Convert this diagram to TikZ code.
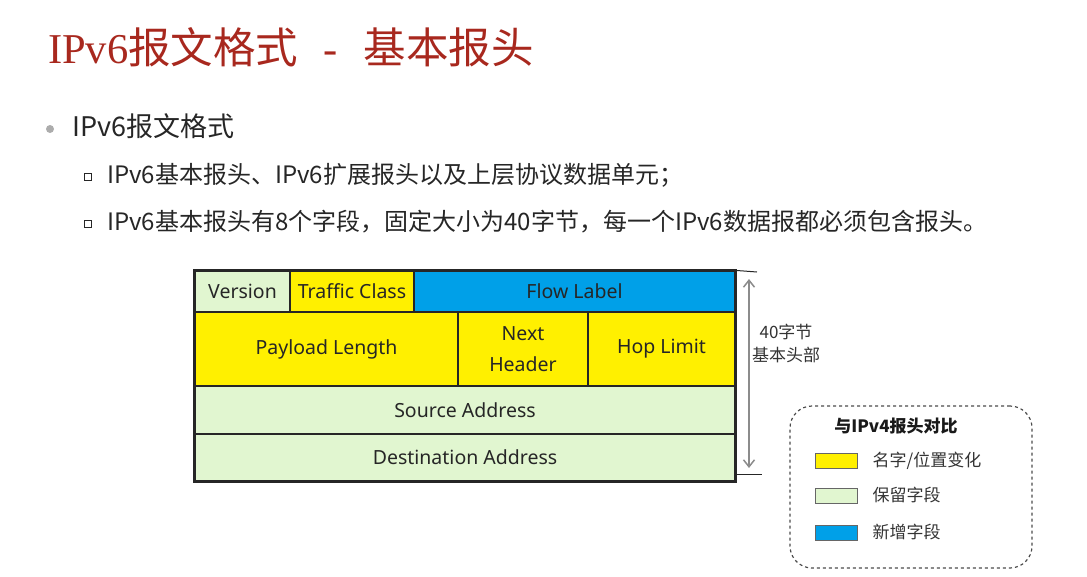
\documentclass[tikz,border=0pt]{standalone}
\usepackage{fontspec}
\setmainfont{Noto Sans}
\newfontfamily\cjk{Noto Sans CJK SC}
\newfontfamily\titleserif{Liberation Serif}
\usetikzlibrary{arrows.meta,positioning}
\definecolor{titlered}{HTML}{A8281E}
\definecolor{fyellow}{HTML}{FFF000}
\definecolor{fgreen}{HTML}{E1F6D0}
\definecolor{fblue}{HTML}{00A0E8}
\definecolor{bargray}{HTML}{8C8C8C}

\begin{document}
\begin{tikzpicture}[x=1pt, y=-1pt, >={Straight Barb[length=7pt,width=11pt]},
  fld/.style={draw=black!85, line width=1.2pt, inner sep=0, text=black!85,
              font=\fontsize{19.5}{23}\selectfont, align=center},
  body/.style={anchor=west, inner sep=0, text=black!85},
  swatch/.style={draw=black!60, line width=0.8pt, minimum width=42pt, minimum height=15pt, inner sep=0},
  legtxt/.style={inner sep=0, text=black!80, font=\cjk\fontsize{17}{20}\selectfont}]
  \useasboundingbox (0,0) rectangle (1087,576);
  \node[anchor=west, inner sep=0, text=titlered] (title) at (48,47)
    {\fontsize{42.5}{46}\selectfont\titleserif IPv6\cjk 报文格式\hspace{0.6em}\titleserif -\hspace{0.6em}\cjk 基本报头};
  \node[circle, fill=gray!65, inner sep=0, minimum size=8pt] (dot) at (50,129) {};
  \node[body, font=\cjk\fontsize{27}{30}\selectfont] (pkt) at (72,126) {IPv6报文格式};
  \node[draw=black!85, line width=1pt, inner sep=0, minimum size=7pt] (sqa) at (88,177) {};
  \node[body, font=\cjk\fontsize{24}{28}\selectfont] (parts) at (107,175)
    {IPv6基本报头、IPv6扩展报头以及上层协议数据单元；};
  \node[draw=black!85, line width=1pt, inner sep=0, minimum size=7pt] (sqb) at (88,224) {};
  \node[body, font=\cjk\fontsize{24}{28}\selectfont] (fields) at (107,222)
    {IPv6基本报头有8个字段，固定大小为40字节，每一个IPv6数据报都必须包含报头。};
  \node[fld, fill=fgreen, minimum width=95pt, minimum height=41pt] (ver) at (242.5,291.5) {Version};
  \node[fld, fill=fyellow, minimum width=124pt, minimum height=41pt] (tc) at (352,291.5) {Traffic Class};
  \node[fld, fill=fblue, minimum width=321pt, minimum height=41pt] (fl) at (574.5,291.5) {Flow Label};
  \node[fld, fill=fyellow, minimum width=263pt, minimum height=74pt] (pl) at (326.5,349) {Payload Length};
  \node[fld, fill=fyellow, minimum width=130pt, minimum height=74pt,
        font=\fontsize{19.5}{31}\selectfont] (nh) at (523,349) {Next\\Header};
  \node[fld, fill=fyellow, minimum width=147pt, minimum height=74pt] (hl) at (661.5,349) {Hop Limit};
  \node[fld, fill=fgreen, minimum width=540pt, minimum height=48pt] (src) at (465,410) {Source Address};
  \node[fld, fill=fgreen, minimum width=540pt, minimum height=47pt] (dst) at (465,457.5) {Destination Address};
  \draw[line width=2pt, black!85] (ver.north west) rectangle (dst.south east);
  \coordinate (ttop) at (757,272);
  \coordinate (tbot) at (762,474);
  \coordinate (atop) at (749,279);
  \coordinate (abot) at (749,468);
  \draw[line width=1pt, black!85] (fl.north east) -- (ttop);
  \draw[line width=1pt, black!85] (dst.east |- tbot) -- (tbot);
  \draw[<->, bargray, line width=1.5pt] (atop) -- (abot);
  \node[inner sep=0, align=center, text=black!80, font=\cjk\fontsize{17}{23}\selectfont] (hsize) at (786,343) {40字节\\基本头部};
  \node[draw=black!70, dashed, line width=1.2pt, rounded corners=22pt,
        minimum width=242pt, minimum height=162pt] (legend) at (911,487) {};
  \node[legtxt, text=black!90, font=\cjk\bfseries\fontsize{17}{20}\selectfont] (legtitle) at (896,426) {与IPv4报头对比};
  \node[swatch, fill=fyellow] (swy) at (836,460.5) {};
  \node[swatch, fill=fgreen] (swg) at (836,495.5) {};
  \node[swatch, fill=fblue] (swb) at (836,532.5) {};
  \node[legtxt, right=15pt of swy] (ty) {名字/位置变化};
  \node[legtxt, right=15pt of swg] (tg) {保留字段};
  \node[legtxt, right=15pt of swb] (tb) {新增字段};
\end{tikzpicture}
\end{document}
